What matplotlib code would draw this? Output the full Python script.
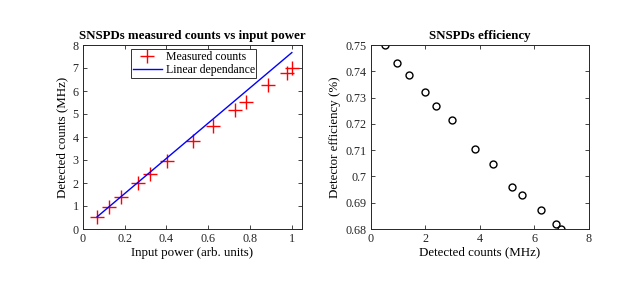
import matplotlib
matplotlib.use("Agg")
import matplotlib.pyplot as plt

# Data
power = [0.069, 0.126, 0.185, 0.266, 0.320, 0.403, 0.528, 0.625, 0.730, 0.782, 0.888, 0.975, 1.0]
counts = [0.53, 0.96, 1.40, 1.99, 2.38, 2.97, 3.83, 4.50, 5.19, 5.54, 6.24, 6.79, 6.98]
efficiency = [0.7500, 0.7432, 0.7387, 0.7321, 0.7268, 0.7213, 0.7105, 0.7047,
              0.6961, 0.6931, 0.6874, 0.6818, 0.6801]
line_x = [0.069, 1.0]
line_y = [0.53, 7.67]

left_xticks = [0, 0.2, 0.4, 0.6, 0.8, 1]
left_xticklabels = ["0", "0.2", "0.4", "0.6", "0.8", "1"]
left_yticks = [0, 1, 2, 3, 4, 5, 6, 7, 8]
right_xticks = [0, 2, 4, 6, 8]
right_yticks = [0.68, 0.69, 0.70, 0.71, 0.72, 0.73, 0.74, 0.75]
right_yticklabels = ["0.68", "0.69", "0.7", "0.71", "0.72", "0.73", "0.74", "0.75"]

plt.rcParams['font.family'] = ['Liberation Serif', 'DejaVu Serif']
plt.rcParams['mathtext.fontset'] = 'stix'

fig = plt.figure(figsize=(6.23, 2.83), dpi=100)
W, H = 623, 283

def add_ax(x0, x1, y0, y1):
    return fig.add_axes([x0 / W, 1 - y1 / H, (x1 - x0) / W, (y1 - y0) / H])

ax1 = add_ax(82.7, 302.3, 45, 229)
ax2 = add_ax(370.7, 588.7, 45, 229)

tfs = 8.7
lfs = 9.3
for ax in (ax1, ax2):
    ax.tick_params(direction='in', top=True, right=True, length=3, width=0.6,
                   labelsize=tfs, colors='#262626', pad=3)
    for s in ax.spines.values():
        s.set_linewidth(0.7)
        s.set_color('#262626')

ax1.plot(power, counts, linestyle='none', marker='+', color='red',
         markersize=10.5, markeredgewidth=1.0, label='Measured counts')
ax1.plot(line_x, line_y, color='blue', linewidth=1.0, label='Linear dependance')
ax1.set_xlim(0, 1.05)
ax1.set_ylim(0, 8)
ax1.set_xticks(left_xticks)
ax1.set_xticklabels(left_xticklabels)
ax1.set_yticks(left_yticks)
ax1.set_xlabel('Input power (arb. units)', fontsize=lfs, labelpad=1)
ax1.set_ylabel('Detected counts (MHz)', fontsize=lfs, labelpad=3)
ax1.set_title('SNSPDs measured counts vs input power', fontsize=lfs,
              fontweight='bold', pad=4)
leg = ax1.legend(loc='upper center', bbox_to_anchor=(0.505, 0.99), fontsize=8.5,
                 frameon=True, fancybox=False, borderpad=0.15, labelspacing=0.1,
                 handlelength=2.5, handletextpad=0.3, borderaxespad=0.2)
leg.get_frame().set_edgecolor('black')
leg.get_frame().set_linewidth(0.7)

ax2.plot(counts, efficiency, linestyle='none', marker='o', markerfacecolor='none',
         markeredgecolor='black', markersize=5, markeredgewidth=1.0)
ax2.set_xlim(0, 8)
ax2.set_ylim(0.68, 0.75)
ax2.set_xticks(right_xticks)
ax2.set_yticks(right_yticks)
ax2.set_yticklabels(right_yticklabels)
ax2.set_xlabel('Detected counts (MHz)', fontsize=lfs, labelpad=1)
ax2.set_ylabel('Detector efficiency (%)', fontsize=lfs, labelpad=3)
ax2.set_title('SNSPDs efficiency', fontsize=lfs, fontweight='bold', pad=4)

fig.savefig('out.png', dpi=100)
